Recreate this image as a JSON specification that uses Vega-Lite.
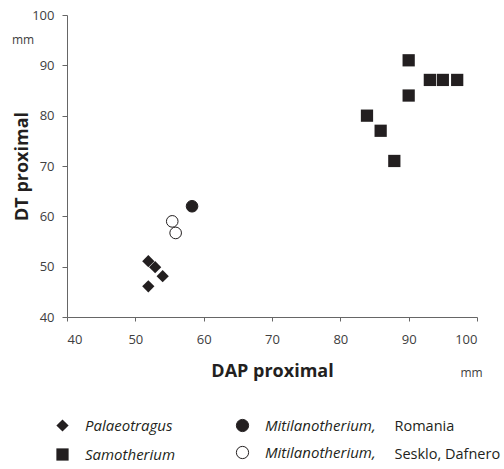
{
  "$schema": "https://vega.github.io/schema/vega-lite/v6.json",
  "width": 410,
  "height": 302,
  "autosize": {"type": "none"},
  "padding": {"left": 67, "top": 15, "right": 27, "bottom": 152},
  "background": "white",
  "config": {
    "view": {"stroke": null},
    "font": "Open Sans",
    "axis": {
      "grid": false,
      "domainColor": "#666666",
      "tickColor": "#666666",
      "labelColor": "#404040",
      "labelFont": "Open Sans",
      "labelFontSize": 13,
      "titleFont": "Open Sans",
      "titleFontSize": 18,
      "titleFontWeight": "bold",
      "titleColor": "#231f20"
    },
    "legend": {"padding": 0, "labelFont": "Open Sans", "labelFontSize": 15, "labelColor": "#231f20", "labelLimit": 300}
  },
  "data": {
    "values": [
      {"taxon": "Palaeotragus", "group": "Palaeotragus", "DAP": 51.9, "DT": 51.1},
      {"taxon": "Palaeotragus", "group": "Palaeotragus", "DAP": 52.9, "DT": 49.9},
      {"taxon": "Palaeotragus", "group": "Palaeotragus", "DAP": 54.0, "DT": 48.1},
      {"taxon": "Palaeotragus", "group": "Palaeotragus", "DAP": 51.9, "DT": 46.1},
      {"taxon": "Mitilanotherium", "group": "Mitilanotherium, Romania", "locality": "Romania", "DAP": 58.3, "DT": 62.0},
      {"taxon": "Mitilanotherium", "group": "Mitilanotherium, Sesklo, Dafnero", "locality": "Sesklo, Dafnero", "DAP": 55.4, "DT": 59.0},
      {"taxon": "Mitilanotherium", "group": "Mitilanotherium, Sesklo, Dafnero", "locality": "Sesklo, Dafnero", "DAP": 55.9, "DT": 56.7},
      {"taxon": "Samotherium", "group": "Samotherium", "DAP": 90.0, "DT": 91.0},
      {"taxon": "Samotherium", "group": "Samotherium", "DAP": 90.0, "DT": 84.0},
      {"taxon": "Samotherium", "group": "Samotherium", "DAP": 93.1, "DT": 87.1},
      {"taxon": "Samotherium", "group": "Samotherium", "DAP": 95.0, "DT": 87.1},
      {"taxon": "Samotherium", "group": "Samotherium", "DAP": 97.1, "DT": 87.1},
      {"taxon": "Samotherium", "group": "Samotherium", "DAP": 83.9, "DT": 80.0},
      {"taxon": "Samotherium", "group": "Samotherium", "DAP": 85.9, "DT": 77.0},
      {"taxon": "Samotherium", "group": "Samotherium", "DAP": 87.9, "DT": 71.0}
    ]
  },
  "layer": [
    {
      "transform": [{"filter": "datum.taxon !== 'Mitilanotherium'"}],
      "mark": {"type": "point", "filled": true, "size": 150, "color": "#231f20", "opacity": 1},
      "encoding": {
        "x": {
          "field": "DAP", "type": "quantitative",
          "scale": {"domain": [40, 100], "nice": false, "zero": false},
          "axis": {
            "values": [40, 50, 60, 70, 80, 90, 100],
            "title": "DAP proximal",
            "tickSize": 4, "labelPadding": 12,
            "titleX": 205, "titleY": 59, "titleAlign": "center", "titleBaseline": "alphabetic"
          }
        },
        "y": {
          "field": "DT", "type": "quantitative",
          "scale": {"domain": [40, 100], "nice": false, "zero": false},
          "axis": {
            "values": [40, 50, 60, 70, 80, 90, 100],
            "title": "DT proximal",
            "tickSize": 5, "labelPadding": 8,
            "titleX": -40, "titleY": 151, "titleAngle": 270, "titleAlign": "center", "titleBaseline": "alphabetic"
          }
        },
        "shape": {
          "field": "group", "type": "nominal",
          "scale": {"domain": ["Palaeotragus", "Samotherium"], "range": ["diamond", "square"]},
          "legend": {
            "title": null, "orient": "none", "legendX": -12, "legendY": 403, "direction": "vertical",
            "symbolSize": 150, "symbolFillColor": "#231f20", "symbolStrokeWidth": 0,
            "labelFontStyle": "italic", "labelOffset": 15, "rowPadding": 13
          }
        }
      }
    },
    {
      "transform": [{"filter": "datum.taxon === 'Mitilanotherium'"}],
      "mark": {"type": "point", "shape": "circle", "filled": true, "size": 135, "stroke": "#231f20", "strokeWidth": 1, "opacity": 1},
      "encoding": {
        "x": {
          "field": "DAP", "type": "quantitative",
          "scale": {"domain": [40, 100], "nice": false, "zero": false},
          "axis": {
            "orient": "bottom", "labels": false, "ticks": false, "domain": false,
            "title": "mm", "titleFontSize": 12, "titleFontWeight": "normal", "titleColor": "#404040",
            "titleX": 404, "titleY": 55, "titleAlign": "center", "titleBaseline": "middle"
          }
        },
        "y": {
          "field": "DT", "type": "quantitative",
          "scale": {"domain": [40, 100], "nice": false, "zero": false},
          "axis": {
            "orient": "left", "labels": false, "ticks": false, "domain": false,
            "title": "mm", "titleFontSize": 12, "titleFontWeight": "normal", "titleColor": "#404040",
            "titleX": -44.5, "titleY": 24, "titleAngle": 0, "titleAlign": "center", "titleBaseline": "middle"
          }
        },
        "fill": {
          "field": "group", "type": "nominal",
          "scale": {"domain": ["Mitilanotherium, Romania", "Mitilanotherium, Sesklo, Dafnero"], "range": ["#231f20", "#ffffff"]},
          "legend": {
            "title": null, "orient": "none", "legendX": 168, "legendY": 403, "direction": "vertical",
            "symbolType": "circle", "symbolSize": 150, "symbolStrokeColor": "#231f20", "symbolStrokeWidth": 1,
            "labelFontStyle": "italic", "labelOffset": 15, "rowPadding": 10,
            "labelExpr": "split(datum.label, ',')[0] + ','",
            "encode": {"symbols": {"update": {"stroke": {"value": "#231f20"}, "strokeWidth": {"value": 1}, "opacity": {"value": 1}}}}
          }
        }
      }
    },
    {
      "transform": [{"filter": "datum.locality != null"}],
      "mark": {"type": "point", "filled": false, "size": 10, "opacity": 0},
      "encoding": {
        "x": {"field": "DAP", "type": "quantitative", "scale": {"domain": [40, 100], "nice": false, "zero": false}, "axis": null},
        "y": {"field": "DT", "type": "quantitative", "scale": {"domain": [40, 100], "nice": false, "zero": false}, "axis": null},
        "stroke": {
          "field": "locality", "type": "nominal",
          "scale": {"domain": ["Romania", "Sesklo, Dafnero"], "range": ["transparent", "transparent"]},
          "legend": {
            "title": null, "orient": "none", "legendX": 313, "legendY": 405, "direction": "vertical",
            "symbolSize": 0, "symbolOpacity": 0, "symbolStrokeWidth": 0,
            "labelFontStyle": "normal", "labelFontSize": 14.5, "labelOffset": 0, "rowPadding": 13
          }
        }
      }
    }
  ],
  "resolve": {"scale": {"x": "independent", "y": "independent", "shape": "independent", "fill": "independent"}}
}
